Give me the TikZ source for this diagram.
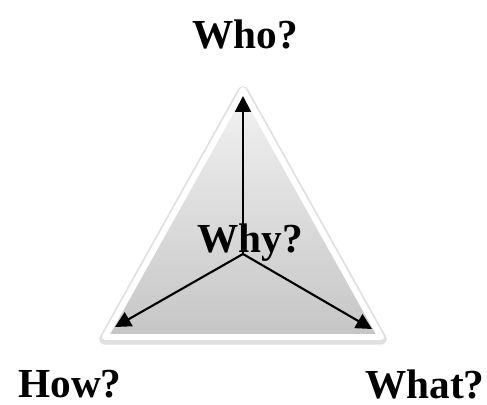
\documentclass[tikz,border=0pt]{standalone}
\usepackage{fontspec}
\setmainfont{Liberation Serif}
\usepackage{tikz}
\usetikzlibrary{arrows.meta}

\begin{document}
\begin{tikzpicture}[
    x=0.02cm, y=-0.02cm,
    word/.style={
        font=\fontsize{23.5}{26}\selectfont\bfseries, inner sep=0pt,
    },
    halo/.style={
        draw=gray!45, line width=6.5pt, line join=round, opacity=0.55,
    },
    tri/.style={
        draw=white, line width=3.4pt, line join=round,
        top color=gray!10, bottom color=gray!45,
    },
    arrow/.style={-{Triangle[length=9pt, width=9pt]}, draw=black, line width=1.2pt},
]
\useasboundingbox (0,0) rectangle (487,405);

% ── Triangle body (soft grey rim under a white edge) ─────────────────
\path[halo] (243,92) -- (381,339) -- (105,339) -- cycle;
\path[tri]  (243,90) -- (381,337) -- (105,337) -- cycle;

% ── Corners and centre ───────────────────────────────────────────────
\coordinate (mid)   at (243,254);
\coordinate (top)   at (243,96);
\coordinate (left)  at (115,327);
\coordinate (right) at (372,329);

% ── Labels ───────────────────────────────────────────────────────────
\node[word] (who)  at (245,34)  {Who?};
\node[word] (why)  at (250,243) {Why?};
\node[word] (how)  at (70,384)  {How?};
\node[word] (what) at (425,384) {What?};

% ── Arrows out of the centre ─────────────────────────────────────────
\draw[arrow] (mid) -- (top);
\draw[arrow] (mid) -- (left);
\draw[arrow] (mid) -- (right);

\end{tikzpicture}
\end{document}
